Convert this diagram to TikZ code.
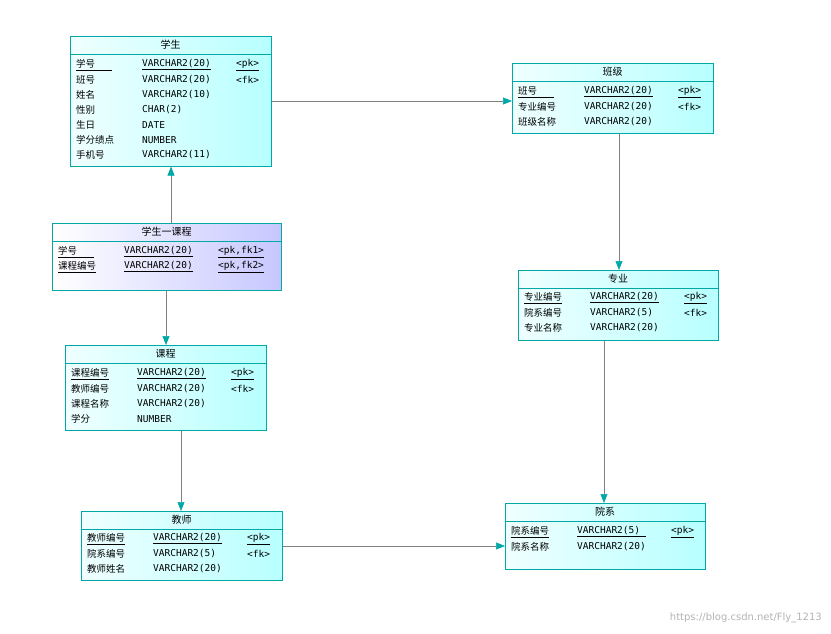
\documentclass[tikz,border=0pt]{standalone}
\usepackage{fontspec}
\setmainfont{DejaVu Sans Mono}
\newfontfamily\cjk{Noto Sans CJK SC}
\usetikzlibrary{arrows.meta}
\definecolor{bd}{HTML}{00A8A8}
\definecolor{ln}{HTML}{808080}
\begin{document}
\begin{tikzpicture}[x=1pt,y=-1pt,
  tbl/.style={draw=bd,left color=cyan!6,right color=cyan!28,anchor=north west,inner sep=0,line width=0.6pt},
  tbl2/.style={draw=bd,left color=white,right color=blue!22,anchor=north west,inner sep=0,line width=0.6pt},
  txt/.style={anchor=west,inner sep=0,font=\fontsize{9.5}{10}\selectfont},
  ttl/.style={inner sep=0,font=\cjk\fontsize{10}{10}\selectfont},
  con/.style={draw=ln,line width=0.6pt,-{Triangle[length=9pt,width=7pt,fill=bd,color=bd]}}]
\useasboundingbox (0,0) rectangle (831,634);
\newcommand{\mktable}[8]{% name,x,y,w,h,title,style,rows
  \node[#7,minimum width=#4pt,minimum height=#5pt] (#1) at (#2,#3) {};
  \node[ttl] (#1t) at ($(#2,#3)+(#4/2,9)$) {#6};
  \draw[bd,line width=0.6pt] (#2,#3+18) -- (#2+#4,#3+18);
}
\newcommand{\rw}[6]{% x,y,name,type,key,dx
  \node[txt] at (#1+6,#2) {\cjk #3};
  \node[txt] at (#1+#6,#2) {#4};
  \node[txt] at (#1+#6+94,#2) {#5};
}
\usetikzlibrary{calc}
% 学生
\node[tbl,minimum width=201pt,minimum height=130pt] (stu) at (70,36) {};
\node[ttl] at (170.5,45) {学生};
\draw[bd,line width=0.6pt] (70,54) -- (271,54);
\rw{70}{65}{\underline{学号\hspace{1.8em}}}{\underline{VARCHAR2(20)}}{\underline{<pk>}}{72}
\rw{70}{80}{班号}{VARCHAR2(20)}{<fk>}{72}
\rw{70}{95}{姓名}{VARCHAR2(10)}{}{72}
\rw{70}{110}{性别}{CHAR(2)}{}{72}
\rw{70}{125}{生日}{DATE}{}{72}
\rw{70}{140}{学分绩点}{NUMBER}{}{72}
\rw{70}{155}{手机号}{VARCHAR2(11)}{}{72}
% 班级
\node[tbl,minimum width=201pt,minimum height=70pt] (cls) at (512,63) {};
\node[ttl] at (612.5,72) {班级};
\draw[bd,line width=0.6pt] (512,81) -- (713,81);
\rw{512}{92}{\underline{班号\hspace{1.8em}}}{\underline{VARCHAR2(20)}}{\underline{<pk>}}{72}
\rw{512}{107}{专业编号}{VARCHAR2(20)}{<fk>}{72}
\rw{512}{122}{班级名称}{VARCHAR2(20)}{}{72}
% 学生一课程
\node[tbl2,minimum width=229pt,minimum height=67pt] (sc) at (52,223) {};
\node[ttl] at (166.5,232) {学生一课程};
\draw[bd,line width=0.6pt] (52,241) -- (281,241);
\rw{52}{252}{\underline{学号\hspace{1.8em}}}{\underline{VARCHAR2(20)}}{\underline{<pk,fk1>}}{72}
\rw{52}{267}{\underline{课程编号}}{\underline{VARCHAR2(20)}}{\underline{<pk,fk2>}}{72}
% 课程
\node[tbl,minimum width=201pt,minimum height=85pt] (crs) at (65,345) {};
\node[ttl] at (165.5,354) {课程};
\draw[bd,line width=0.6pt] (65,363) -- (266,363);
\rw{65}{374}{\underline{课程编号}}{\underline{VARCHAR2(20)}}{\underline{<pk>}}{72}
\rw{65}{389}{教师编号}{VARCHAR2(20)}{<fk>}{72}
\rw{65}{404}{课程名称}{VARCHAR2(20)}{}{72}
\rw{65}{419}{学分}{NUMBER}{}{72}
% 专业
\node[tbl,minimum width=200pt,minimum height=70pt] (maj) at (518,270) {};
\node[ttl] at (618,279) {专业};
\draw[bd,line width=0.6pt] (518,288) -- (718,288);
\rw{518}{298}{\underline{专业编号}}{\underline{VARCHAR2(20)}}{\underline{<pk>}}{72}
\rw{518}{313}{院系编号}{VARCHAR2(5)}{<fk>}{72}
\rw{518}{328}{专业名称}{VARCHAR2(20)}{}{72}
% 教师
\node[tbl,minimum width=201pt,minimum height=69pt] (tch) at (81,511) {};
\node[ttl] at (181.5,520) {教师};
\draw[bd,line width=0.6pt] (81,529) -- (282,529);
\rw{81}{539}{\underline{教师编号}}{\underline{VARCHAR2(20)}}{\underline{<pk>}}{72}
\rw{81}{554}{院系编号}{VARCHAR2(5)}{<fk>}{72}
\rw{81}{569}{教师姓名}{VARCHAR2(20)}{}{72}
% 院系
\node[tbl,minimum width=200pt,minimum height=66pt] (dep) at (505,503) {};
\node[ttl] at (605,512) {院系};
\draw[bd,line width=0.6pt] (505,521) -- (705,521);
\rw{505}{532}{\underline{院系编号}}{\underline{VARCHAR2(5)\hspace{0.6em}}}{\underline{<pk>}}{72}
\rw{505}{547}{院系名称}{VARCHAR2(20)}{}{72}
% connectors
\coordinate (y1) at (0,101); \coordinate (x1) at (619,0);
\coordinate (x2) at (171,0); \coordinate (x3) at (166,0);
\coordinate (x4) at (181,0); \coordinate (y5) at (0,546); \coordinate (x6) at (604,0);
\draw[con] (stu.east|-y1) -- (cls.west|-y1);
\draw[con] (cls.south-|x1) -- (maj.north-|x1);
\draw[con] (sc.north-|x2) -- (stu.south-|x2);
\draw[con] (sc.south-|x3) -- (crs.north-|x3);
\draw[con] (crs.south-|x4) -- (tch.north-|x4);
\draw[con] (tch.east|-y5) -- (dep.west|-y5);
\draw[con] (maj.south-|x6) -- (dep.north-|x6);
\node[anchor=east,inner sep=0,text=black!30,font=\fontfamily{DejaVu Sans}\fontsize{10}{10}\selectfont] (wm) at (822,618) {\fontspec{DejaVu Sans}https://blog.csdn.net/Fly\_1213};
\end{tikzpicture}
\end{document}
